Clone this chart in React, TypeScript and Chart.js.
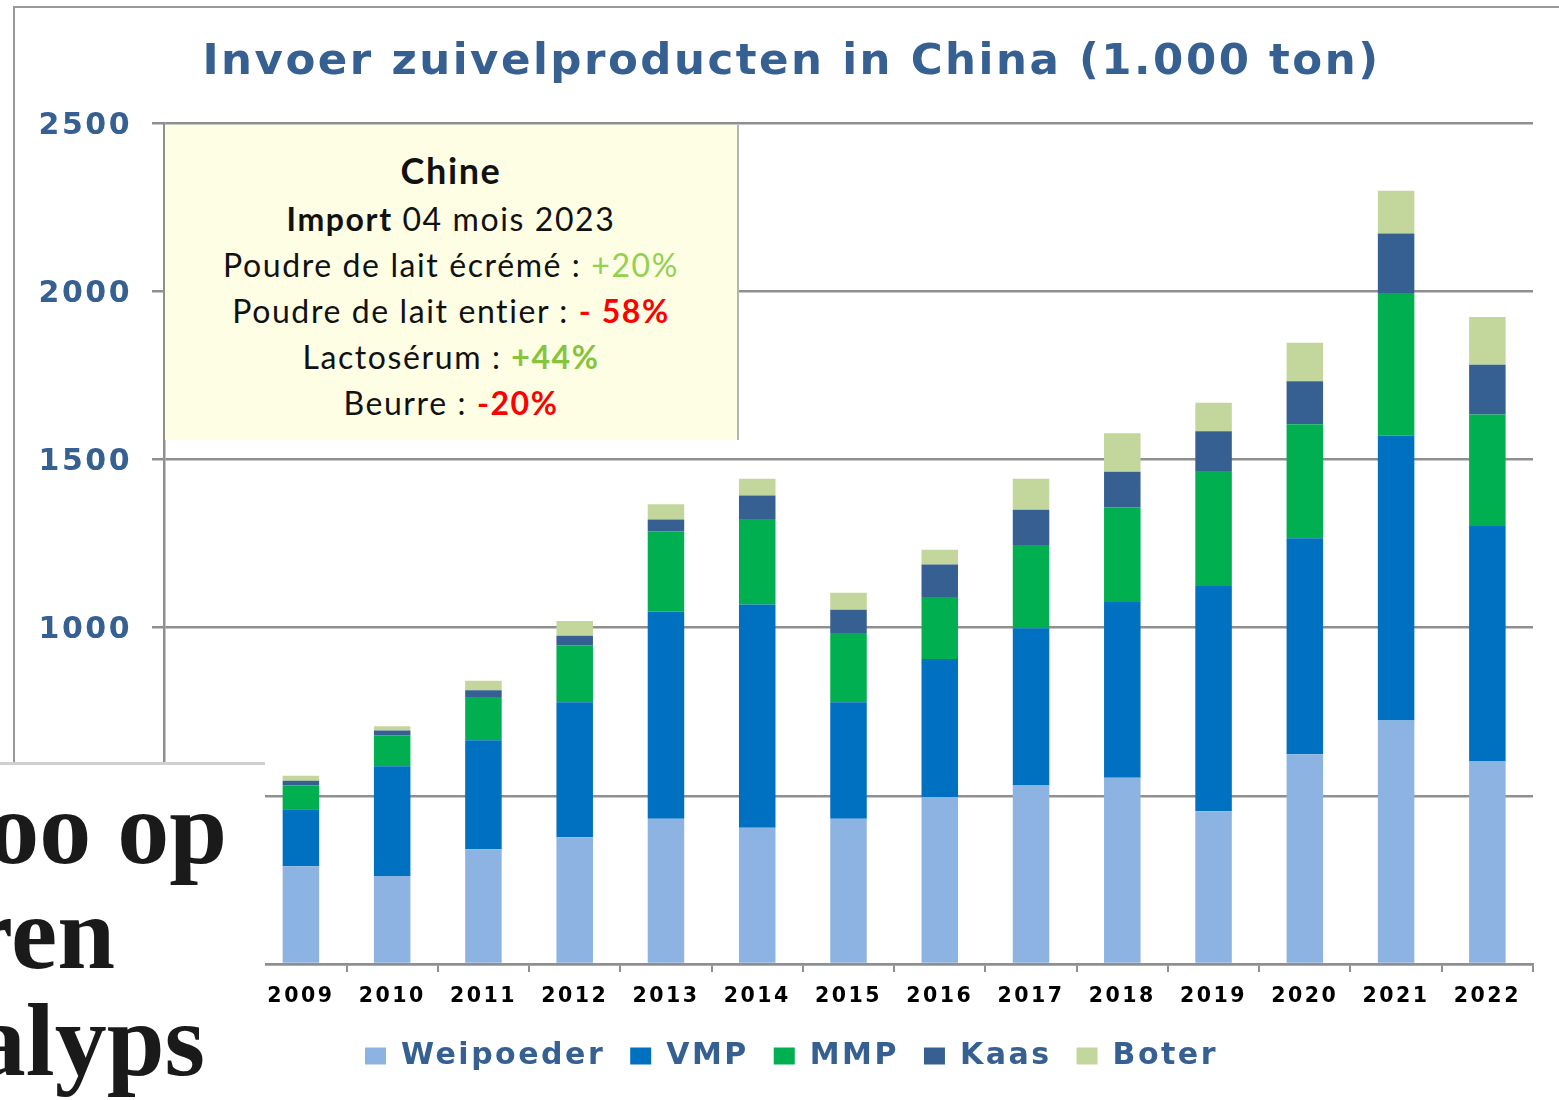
import React, { useEffect, useRef } from 'react';
import { Chart, registerables } from 'chart.js';

Chart.register(...registerables);

// Categories (first slot is the hidden leading slot behind the overlay)
const categories = ['', '2009', '2010', '2011', '2012', '2013', '2014', '2015', '2016', '2017', '2018', '2019', '2020', '2021', '2022'];

// Series values (1.000 ton)
const weipoeder = [null, 291, 262, 341, 377, 432, 405, 432, 496, 531, 554, 454, 624, 724, 602];
const vmp = [null, 169, 326, 324, 401, 615, 664, 346, 411, 467, 522, 670, 642, 847, 700];
const mmp = [null, 71, 92, 129, 170, 240, 254, 206, 184, 248, 282, 342, 339, 424, 332];
const kaas = [null, 14, 14, 20, 28, 35, 70, 69, 97, 105, 106, 118, 128, 177, 148];
const boter = [null, 15, 13, 28, 44, 45, 50, 51, 44, 92, 114, 85, 114, 127, 142];

const seriesNames = ['Weipoeder', 'VMP', 'MMP', 'Kaas', 'Boter'];
const seriesColors = ['#8DB3E2', '#0070C0', '#00B050', '#376092', '#C3D69B'];

const yTicks = { min: 0, max: 2500, step: 500 };

const titleText = 'Invoer zuivelproducten in China (1.000 ton)';

const TEXT_BLUE = '#366092';
const GRID = '#8f8f8f';

const spacingPlugin = {
  id: 'letterSpacing',
  beforeLayout(chart: any) {
    chart.ctx.letterSpacing = '2.5px';
  },
  afterLayout(chart: any) {
    // let the y tick labels use the space left of the axis box (avoid clipping)
    const y = chart.scales.y;
    if (y) {
      y.width = y.right;
      y.left = 0;
    }
  },
  beforeDraw(chart: any) {
    chart.ctx.letterSpacing = '2.5px';
  },
};

function ChartCanvas() {
  const ref = useRef<HTMLCanvasElement | null>(null);
  useEffect(() => {
    if (!ref.current) return;
    const values = [weipoeder, vmp, mmp, kaas, boter];
    const chart = new Chart(ref.current, {
      type: 'bar',
      data: {
        labels: categories,
        datasets: values.map((d, i) => ({
          label: seriesNames[i],
          data: d as any,
          backgroundColor: seriesColors[i],
          borderWidth: 0,
          barPercentage: 0.4,
          categoryPercentage: 1,
        })),
      },
      options: {
        animation: false,
        responsive: false,
        devicePixelRatio: 1,
        layout: { padding: { left: 50, right: 26, top: 0, bottom: 19 } },
        plugins: {
          tooltip: { enabled: false },
          title: {
            display: true,
            text: titleText,
            color: TEXT_BLUE,
            font: { family: 'DejaVu Sans', weight: 'bold', size: 43.5, lineHeight: 1.2 },
            padding: { top: 37, bottom: 34 },
          },
          legend: {
            display: true,
            position: 'bottom',
            labels: {
              color: TEXT_BLUE,
              font: { family: 'DejaVu Sans', weight: 'bold', size: 30 },
              boxWidth: 21,
              boxHeight: 17,
              padding: 25,
            },
          },
        },
        scales: {
          x: {
            stacked: true,
            afterFit(scale: any) {
              scale.height = 52;
            },
            grid: {
              offset: true,
              drawOnChartArea: false,
              drawTicks: true,
              tickLength: 8,
              color: GRID,
              lineWidth: 2,
            },
            border: { display: true, color: GRID, width: 2.5 },
            ticks: {
              color: '#000',
              font: { family: 'DejaVu Sans', weight: 'bold', size: 20.5 },
              padding: 12,
              maxRotation: 0,
              autoSkip: false,
            },
          },
          y: {
            stacked: true,
            min: yTicks.min,
            max: yTicks.max,
            afterFit(scale: any) {
              scale.width = 114;
            },
            grid: {
              color: GRID,
              lineWidth: 2.5,
              drawTicks: true,
              tickLength: 12,
            },
            border: { display: true, color: GRID, width: 2.5 },
            ticks: {
              stepSize: yTicks.step,
              color: TEXT_BLUE,
              font: { family: 'DejaVu Sans', weight: 'bold', size: 30 },
              padding: 20,
              labelOffset: 3,
              callback: (v: any) => String(v),
            },
          },
        },
      },
      plugins: [spacingPlugin],
    });
    return () => chart.destroy();
  }, []);
  return <canvas ref={ref} width={1559} height={1100} style={{ position: 'absolute', left: 0, top: 0, width: 1559, height: 1100 }} />;
}

const boxLine: React.CSSProperties = { height: 46, lineHeight: '46px', whiteSpace: 'nowrap' };

export default function App() {
  return (
    <div style={{ position: 'absolute', left: 0, top: 0, width: 1559, height: 1100, overflow: 'hidden', background: '#fff' }}>
      {/* outer frame */}
      <div style={{ position: 'absolute', left: 13, top: 6, width: 1560, height: 770, borderTop: '2px solid #999', borderLeft: '2px solid #999' }} />
      <ChartCanvas />
      {/* yellow info box */}
      <div
        style={{
          position: 'absolute',
          left: 165,
          top: 125,
          width: 572,
          height: 315,
          background: '#FEFEE4',
          borderRight: '2px solid #b4b4b4',
          fontFamily: 'Lato, "Noto Sans", sans-serif',
          fontSize: 32,
          letterSpacing: '1.6px',
          color: '#111',
          textAlign: 'center',
        }}
      >
        <div style={{ ...boxLine, marginTop: 22, height: 49, fontWeight: 'bold', fontSize: 36 }}>Chine</div>
        <div style={boxLine}>
          <b>Import</b> 04 mois 2023
        </div>
        <div style={boxLine}>
          Poudre de lait écrémé : <span style={{ color: '#92D050' }}>+20%</span>
        </div>
        <div style={boxLine}>
          Poudre de lait entier : <b style={{ color: '#FF0000' }}>- 58%</b>
        </div>
        <div style={boxLine}>
          Lactosérum : <b style={{ color: '#86C440' }}>+44%</b>
        </div>
        <div style={boxLine}>
          Beurre : <b style={{ color: '#FF0000' }}>-20%</b>
        </div>
      </div>
      {/* newspaper clipping overlay */}
      <div
        style={{
          position: 'absolute',
          left: 0,
          top: 762,
          width: 265,
          height: 338,
          background: '#fff',
          borderTop: '3px solid #cfcfcf',
          overflow: 'hidden',
          fontFamily: '"Liberation Serif", serif',
          fontWeight: 'bold',
          fontSize: 104,
          lineHeight: 1,
          color: '#1a1a1a',
          whiteSpace: 'nowrap',
        }}
      >
        <div style={{ position: 'absolute', right: 38, top: 11 }}>oo op</div>
        <div style={{ position: 'absolute', right: 150, top: 116 }}>ren</div>
        <div style={{ position: 'absolute', right: 60, top: 223 }}>alyps</div>
      </div>
    </div>
  );
}
